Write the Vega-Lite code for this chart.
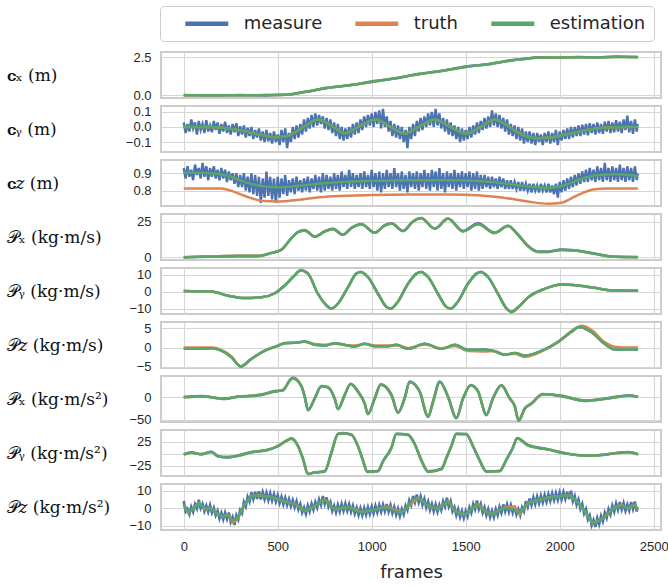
{
"$schema":"https://vega.github.io/schema/vega-lite/v6.json",
"background":"white",
"padding":5,
"datasets":{
"cx":[{"f":0,"m":0.01,"t":0,"e":0},{"f":150,"m":-0.02,"t":0,"e":0},{"f":300,"m":0.02,"t":0,"e":0},{"f":450,"m":-0.01,"t":0.01,"e":0.01},{"f":520,"m":0.04,"t":0.02,"e":0.02},{"f":560,"m":0.03,"t":0.05,"e":0.05},{"f":614,"m":0.17,"t":0.15,"e":0.15},{"f":680,"m":0.28,"t":0.3,"e":0.3},{"f":750,"m":0.47,"t":0.44,"e":0.44},{"f":875,"m":0.63,"t":0.65,"e":0.65},{"f":1000,"m":0.9,"t":0.87,"e":0.87},{"f":1125,"m":1.1,"t":1.12,"e":1.12},{"f":1250,"m":1.4,"t":1.37,"e":1.37},{"f":1375,"m":1.59,"t":1.61,"e":1.61},{"f":1500,"m":1.88,"t":1.85,"e":1.85},{"f":1625,"m":2.03,"t":2.05,"e":2.05},{"f":1750,"m":2.31,"t":2.28,"e":2.28},{"f":1820,"m":2.37,"t":2.4,"e":2.4},{"f":1880,"m":2.48,"t":2.45,"e":2.45},{"f":2000,"m":2.45,"t":2.47,"e":2.47},{"f":2100,"m":2.51,"t":2.48,"e":2.48},{"f":2200,"m":2.47,"t":2.49,"e":2.49},{"f":2300,"m":2.53,"t":2.5,"e":2.5},{"f":2417,"m":2.49,"t":2.5,"e":2.5}],
"cy":[{"f":0,"m":0.03},{"f":10,"m":-0.04},{"f":20,"m":0.02},{"f":30,"m":-0.03},{"f":40,"m":0.05},{"f":50,"m":-0.01},{"f":60,"m":0.03},{"f":70,"m":-0.05},{"f":80,"m":0.04},{"f":90,"m":-0.02},{"f":100,"m":0.02},{"f":110,"m":-0.04},{"f":120,"m":0.045},{"f":130,"m":-0.03},{"f":140,"m":0.01},{"f":150,"m":-0.035},{"f":160,"m":0.04},{"f":170,"m":-0.02},{"f":180,"m":0.03},{"f":190,"m":-0.045},{"f":200,"m":0.02},{"f":210,"m":-0.03},{"f":220,"m":0.035},{"f":230,"m":-0.04},{"f":240,"m":0.01},{"f":250,"m":-0.05},{"f":260,"m":0.02},{"f":270,"m":-0.035},{"f":280,"m":0.025},{"f":290,"m":-0.06},{"f":300,"m":0.005},{"f":310,"m":-0.05},{"f":320,"m":0.01},{"f":330,"m":-0.07},{"f":340,"m":-0.005},{"f":350,"m":-0.06},{"f":360,"m":0.0},{"f":370,"m":-0.08},{"f":380,"m":-0.02},{"f":390,"m":-0.07},{"f":400,"m":-0.01},{"f":410,"m":-0.09},{"f":420,"m":-0.03},{"f":430,"m":-0.1},{"f":440,"m":-0.02},{"f":450,"m":-0.095},{"f":460,"m":-0.04},{"f":470,"m":-0.11},{"f":480,"m":-0.03},{"f":490,"m":-0.1},{"f":500,"m":-0.05},{"f":510,"m":-0.12},{"f":520,"m":-0.02},{"f":530,"m":-0.1},{"f":540,"m":-0.01},{"f":550,"m":-0.14},{"f":560,"m":-0.04},{"f":570,"m":-0.1},{"f":580,"m":0.0},{"f":590,"m":-0.08},{"f":600,"m":0.01},{"f":610,"m":-0.07},{"f":620,"m":0.02},{"f":630,"m":-0.05},{"f":640,"m":0.05},{"f":650,"m":-0.03},{"f":660,"m":0.06},{"f":670,"m":-0.01},{"f":680,"m":0.08},{"f":690,"m":0.0},{"f":700,"m":0.09},{"f":710,"m":0.01},{"f":720,"m":0.08},{"f":730,"m":0.02},{"f":740,"m":0.07},{"f":750,"m":-0.01},{"f":760,"m":0.06},{"f":770,"m":-0.02},{"f":780,"m":0.05},{"f":790,"m":-0.04},{"f":800,"m":0.03},{"f":810,"m":-0.06},{"f":820,"m":0.02},{"f":830,"m":-0.08},{"f":840,"m":0.0},{"f":850,"m":-0.09},{"f":860,"m":-0.01},{"f":870,"m":-0.08},{"f":880,"m":0.0},{"f":890,"m":-0.07},{"f":900,"m":0.02},{"f":910,"m":-0.05},{"f":920,"m":0.03},{"f":930,"m":-0.04},{"f":940,"m":0.05},{"f":950,"m":-0.02},{"f":960,"m":0.07},{"f":970,"m":0.0},{"f":980,"m":0.08},{"f":990,"m":0.01},{"f":1000,"m":0.09},{"f":1010,"m":0.0},{"f":1020,"m":0.1},{"f":1030,"m":0.02},{"f":1040,"m":0.11},{"f":1050,"m":-0.01},{"f":1060,"m":0.12},{"f":1070,"m":0.0},{"f":1080,"m":0.07},{"f":1090,"m":-0.03},{"f":1100,"m":0.04},{"f":1110,"m":-0.06},{"f":1120,"m":0.02},{"f":1130,"m":-0.07},{"f":1140,"m":0.01},{"f":1150,"m":-0.08},{"f":1160,"m":0.0},{"f":1170,"m":-0.1},{"f":1180,"m":-0.02},{"f":1190,"m":-0.14},{"f":1200,"m":0.0},{"f":1210,"m":-0.08},{"f":1220,"m":0.02},{"f":1230,"m":-0.06},{"f":1240,"m":0.04},{"f":1250,"m":-0.03},{"f":1260,"m":0.06},{"f":1270,"m":-0.02},{"f":1280,"m":0.07},{"f":1290,"m":0.0},{"f":1300,"m":0.09},{"f":1310,"m":0.01},{"f":1320,"m":0.1},{"f":1330,"m":0.0},{"f":1340,"m":0.12},{"f":1350,"m":0.01},{"f":1360,"m":0.09},{"f":1370,"m":-0.01},{"f":1380,"m":0.06},{"f":1390,"m":-0.03},{"f":1400,"m":0.05},{"f":1410,"m":-0.05},{"f":1420,"m":0.03},{"f":1430,"m":-0.06},{"f":1440,"m":0.01},{"f":1450,"m":-0.08},{"f":1460,"m":0.0},{"f":1470,"m":-0.1},{"f":1480,"m":-0.01},{"f":1490,"m":-0.09},{"f":1500,"m":-0.02},{"f":1510,"m":-0.08},{"f":1520,"m":0.0},{"f":1530,"m":-0.07},{"f":1540,"m":0.01},{"f":1550,"m":-0.05},{"f":1560,"m":0.03},{"f":1570,"m":-0.04},{"f":1580,"m":0.04},{"f":1590,"m":-0.02},{"f":1600,"m":0.06},{"f":1610,"m":-0.01},{"f":1620,"m":0.07},{"f":1630,"m":0.0},{"f":1640,"m":0.11},{"f":1650,"m":0.01},{"f":1660,"m":0.09},{"f":1670,"m":0.0},{"f":1680,"m":0.08},{"f":1690,"m":-0.01},{"f":1700,"m":0.06},{"f":1710,"m":-0.03},{"f":1720,"m":0.05},{"f":1730,"m":-0.05},{"f":1740,"m":0.02},{"f":1750,"m":-0.06},{"f":1760,"m":0.01},{"f":1770,"m":-0.08},{"f":1780,"m":0.0},{"f":1790,"m":-0.09},{"f":1800,"m":-0.01},{"f":1810,"m":-0.11},{"f":1820,"m":-0.03},{"f":1830,"m":-0.1},{"f":1840,"m":-0.03},{"f":1850,"m":-0.11},{"f":1860,"m":-0.04},{"f":1870,"m":-0.12},{"f":1880,"m":-0.04},{"f":1890,"m":-0.1},{"f":1900,"m":-0.05},{"f":1910,"m":-0.12},{"f":1920,"m":-0.04},{"f":1930,"m":-0.1},{"f":1940,"m":-0.03},{"f":1950,"m":-0.11},{"f":1960,"m":-0.04},{"f":1970,"m":-0.1},{"f":1980,"m":-0.02},{"f":1990,"m":-0.12},{"f":2000,"m":-0.03},{"f":2010,"m":-0.09},{"f":2020,"m":-0.02},{"f":2030,"m":-0.08},{"f":2040,"m":-0.01},{"f":2050,"m":-0.08},{"f":2060,"m":0.0},{"f":2070,"m":-0.07},{"f":2080,"m":0.0},{"f":2090,"m":-0.06},{"f":2100,"m":0.01},{"f":2110,"m":-0.06},{"f":2120,"m":0.015},{"f":2130,"m":-0.05},{"f":2140,"m":0.02},{"f":2150,"m":-0.055},{"f":2160,"m":0.025},{"f":2170,"m":-0.04},{"f":2180,"m":0.02},{"f":2190,"m":-0.05},{"f":2200,"m":0.03},{"f":2210,"m":-0.04},{"f":2220,"m":0.02},{"f":2230,"m":-0.045},{"f":2240,"m":0.035},{"f":2250,"m":-0.03},{"f":2260,"m":0.04},{"f":2270,"m":-0.04},{"f":2280,"m":0.03},{"f":2290,"m":-0.035},{"f":2300,"m":0.045},{"f":2310,"m":-0.03},{"f":2320,"m":0.035},{"f":2330,"m":-0.04},{"f":2340,"m":0.05},{"f":2350,"m":-0.02},{"f":2360,"m":0.075},{"f":2370,"m":-0.035},{"f":2380,"m":0.04},{"f":2390,"m":-0.045},{"f":2400,"m":0.05},{"f":2410,"m":-0.03},{"f":2415,"m":0.02},
{"f":0,"t":0,"e":0},{"f":150,"t":0,"e":0},{"f":250,"t":-0.012,"e":-0.012},{"f":330,"t":-0.03,"e":-0.03},{"f":420,"t":-0.055,"e":-0.055},{"f":484,"t":-0.068,"e":-0.068},{"f":540,"t":-0.063,"e":-0.063},{"f":600,"t":-0.03,"e":-0.03},{"f":650,"t":0.01,"e":0.01},{"f":714,"t":0.05,"e":0.05},{"f":790,"t":0.005,"e":0.005},{"f":856,"t":-0.042,"e":-0.042},{"f":935,"t":0.005,"e":0.005},{"f":1020,"t":0.05,"e":0.05},{"f":1100,"t":0.0,"e":0.0},{"f":1178,"t":-0.044,"e":-0.044},{"f":1255,"t":0.005,"e":0.005},{"f":1335,"t":0.05,"e":0.05},{"f":1418,"t":0.0,"e":0.0},{"f":1500,"t":-0.044,"e":-0.044},{"f":1578,"t":0.0,"e":0.0},{"f":1655,"t":0.05,"e":0.05},{"f":1720,"t":0.01,"e":0.01},{"f":1790,"t":-0.045,"e":-0.045},{"f":1885,"t":-0.075,"e":-0.075},{"f":1950,"t":-0.07,"e":-0.07},{"f":2050,"t":-0.045,"e":-0.045},{"f":2150,"t":-0.018,"e":-0.018},{"f":2250,"t":-0.003,"e":-0.003},{"f":2350,"t":0,"e":0},{"f":2417,"t":0,"e":0}],
"cz":[{"f":0,"m":0.93},{"f":10,"m":0.87},{"f":20,"m":0.94},{"f":30,"m":0.88},{"f":40,"m":0.92},{"f":50,"m":0.86},{"f":60,"m":0.95},{"f":70,"m":0.89},{"f":80,"m":0.93},{"f":90,"m":0.87},{"f":100,"m":0.96},{"f":110,"m":0.88},{"f":120,"m":0.94},{"f":130,"m":0.86},{"f":140,"m":0.93},{"f":150,"m":0.88},{"f":160,"m":0.94},{"f":170,"m":0.87},{"f":180,"m":0.92},{"f":190,"m":0.86},{"f":200,"m":0.93},{"f":210,"m":0.87},{"f":220,"m":0.92},{"f":230,"m":0.85},{"f":240,"m":0.91},{"f":250,"m":0.86},{"f":260,"m":0.9},{"f":270,"m":0.84},{"f":280,"m":0.9},{"f":290,"m":0.82},{"f":300,"m":0.89},{"f":310,"m":0.82},{"f":320,"m":0.9},{"f":330,"m":0.8},{"f":340,"m":0.88},{"f":350,"m":0.79},{"f":360,"m":0.9},{"f":370,"m":0.78},{"f":380,"m":0.89},{"f":390,"m":0.77},{"f":400,"m":0.88},{"f":410,"m":0.73},{"f":420,"m":0.87},{"f":430,"m":0.76},{"f":440,"m":0.91},{"f":450,"m":0.77},{"f":460,"m":0.88},{"f":470,"m":0.75},{"f":480,"m":0.87},{"f":490,"m":0.73},{"f":500,"m":0.88},{"f":510,"m":0.76},{"f":520,"m":0.87},{"f":530,"m":0.78},{"f":540,"m":0.89},{"f":550,"m":0.77},{"f":560,"m":0.86},{"f":570,"m":0.79},{"f":580,"m":0.87},{"f":590,"m":0.78},{"f":600,"m":0.88},{"f":610,"m":0.8},{"f":620,"m":0.86},{"f":630,"m":0.79},{"f":640,"m":0.87},{"f":650,"m":0.8},{"f":660,"m":0.88},{"f":670,"m":0.79},{"f":680,"m":0.87},{"f":690,"m":0.81},{"f":700,"m":0.89},{"f":710,"m":0.8},{"f":720,"m":0.88},{"f":730,"m":0.79},{"f":740,"m":0.9},{"f":750,"m":0.8},{"f":760,"m":0.89},{"f":770,"m":0.81},{"f":780,"m":0.88},{"f":790,"m":0.8},{"f":800,"m":0.9},{"f":810,"m":0.81},{"f":820,"m":0.89},{"f":830,"m":0.8},{"f":840,"m":0.91},{"f":850,"m":0.82},{"f":860,"m":0.89},{"f":870,"m":0.81},{"f":880,"m":0.92},{"f":890,"m":0.82},{"f":900,"m":0.9},{"f":910,"m":0.81},{"f":920,"m":0.89},{"f":930,"m":0.82},{"f":940,"m":0.9},{"f":950,"m":0.81},{"f":960,"m":0.91},{"f":970,"m":0.82},{"f":980,"m":0.89},{"f":990,"m":0.81},{"f":1000,"m":0.92},{"f":1010,"m":0.82},{"f":1020,"m":0.9},{"f":1030,"m":0.8},{"f":1040,"m":0.91},{"f":1050,"m":0.79},{"f":1060,"m":0.9},{"f":1070,"m":0.81},{"f":1080,"m":0.92},{"f":1090,"m":0.82},{"f":1100,"m":0.9},{"f":1110,"m":0.81},{"f":1120,"m":0.93},{"f":1130,"m":0.82},{"f":1140,"m":0.9},{"f":1150,"m":0.8},{"f":1160,"m":0.91},{"f":1170,"m":0.81},{"f":1180,"m":0.89},{"f":1190,"m":0.79},{"f":1200,"m":0.91},{"f":1210,"m":0.82},{"f":1220,"m":0.9},{"f":1230,"m":0.81},{"f":1240,"m":0.91},{"f":1250,"m":0.8},{"f":1260,"m":0.9},{"f":1270,"m":0.82},{"f":1280,"m":0.92},{"f":1290,"m":0.81},{"f":1300,"m":0.9},{"f":1310,"m":0.8},{"f":1320,"m":0.92},{"f":1330,"m":0.82},{"f":1340,"m":0.91},{"f":1350,"m":0.8},{"f":1360,"m":0.93},{"f":1370,"m":0.81},{"f":1380,"m":0.9},{"f":1390,"m":0.79},{"f":1400,"m":0.91},{"f":1410,"m":0.82},{"f":1420,"m":0.9},{"f":1430,"m":0.81},{"f":1440,"m":0.92},{"f":1450,"m":0.8},{"f":1460,"m":0.9},{"f":1470,"m":0.82},{"f":1480,"m":0.91},{"f":1490,"m":0.81},{"f":1500,"m":0.9},{"f":1510,"m":0.82},{"f":1520,"m":0.91},{"f":1530,"m":0.8},{"f":1540,"m":0.9},{"f":1550,"m":0.81},{"f":1560,"m":0.91},{"f":1570,"m":0.8},{"f":1580,"m":0.89},{"f":1590,"m":0.81},{"f":1600,"m":0.89},{"f":1610,"m":0.82},{"f":1620,"m":0.88},{"f":1630,"m":0.81},{"f":1640,"m":0.88},{"f":1650,"m":0.82},{"f":1660,"m":0.87},{"f":1670,"m":0.81},{"f":1680,"m":0.88},{"f":1690,"m":0.82},{"f":1700,"m":0.87},{"f":1710,"m":0.81},{"f":1720,"m":0.86},{"f":1730,"m":0.81},{"f":1740,"m":0.86},{"f":1750,"m":0.81},{"f":1760,"m":0.85},{"f":1770,"m":0.81},{"f":1780,"m":0.85},{"f":1790,"m":0.8},{"f":1800,"m":0.85},{"f":1810,"m":0.8},{"f":1820,"m":0.84},{"f":1830,"m":0.8},{"f":1840,"m":0.84},{"f":1850,"m":0.79},{"f":1860,"m":0.84},{"f":1870,"m":0.8},{"f":1880,"m":0.83},{"f":1890,"m":0.79},{"f":1900,"m":0.84},{"f":1910,"m":0.8},{"f":1920,"m":0.83},{"f":1930,"m":0.79},{"f":1940,"m":0.84},{"f":1950,"m":0.79},{"f":1960,"m":0.83},{"f":1970,"m":0.78},{"f":1980,"m":0.84},{"f":1990,"m":0.76},{"f":2000,"m":0.85},{"f":2010,"m":0.79},{"f":2020,"m":0.86},{"f":2030,"m":0.8},{"f":2040,"m":0.87},{"f":2050,"m":0.81},{"f":2060,"m":0.88},{"f":2070,"m":0.82},{"f":2080,"m":0.89},{"f":2090,"m":0.83},{"f":2100,"m":0.9},{"f":2110,"m":0.84},{"f":2120,"m":0.91},{"f":2130,"m":0.85},{"f":2140,"m":0.92},{"f":2150,"m":0.85},{"f":2160,"m":0.93},{"f":2170,"m":0.86},{"f":2180,"m":0.92},{"f":2190,"m":0.85},{"f":2200,"m":0.94},{"f":2210,"m":0.86},{"f":2220,"m":0.93},{"f":2230,"m":0.85},{"f":2240,"m":0.96},{"f":2250,"m":0.86},{"f":2260,"m":0.93},{"f":2270,"m":0.85},{"f":2280,"m":0.94},{"f":2290,"m":0.86},{"f":2300,"m":0.93},{"f":2310,"m":0.85},{"f":2320,"m":0.95},{"f":2330,"m":0.86},{"f":2340,"m":0.93},{"f":2350,"m":0.85},{"f":2360,"m":0.94},{"f":2370,"m":0.86},{"f":2380,"m":0.93},{"f":2390,"m":0.85},{"f":2400,"m":0.94},{"f":2410,"m":0.86},{"f":2415,"m":0.9},
{"f":0,"t":0.813,"e":0.904},{"f":100,"t":0.813,"e":0.903},{"f":150,"t":0.813,"e":0.9},{"f":200,"t":0.812,"e":0.893},{"f":250,"t":0.8,"e":0.88},{"f":300,"t":0.78,"e":0.86},{"f":350,"t":0.76,"e":0.842},{"f":430,"t":0.74,"e":0.824},{"f":500,"t":0.738,"e":0.82},{"f":590,"t":0.745,"e":0.825},{"f":700,"t":0.76,"e":0.838},{"f":800,"t":0.768,"e":0.847},{"f":1000,"t":0.775,"e":0.856},{"f":1200,"t":0.778,"e":0.86},{"f":1400,"t":0.778,"e":0.86},{"f":1500,"t":0.776,"e":0.858},{"f":1654,"t":0.765,"e":0.848},{"f":1750,"t":0.752,"e":0.835},{"f":1830,"t":0.738,"e":0.824},{"f":1938,"t":0.725,"e":0.815},{"f":2009,"t":0.73,"e":0.825},{"f":2060,"t":0.755,"e":0.845},{"f":2097,"t":0.775,"e":0.862},{"f":2150,"t":0.798,"e":0.878},{"f":2186,"t":0.808,"e":0.887},{"f":2250,"t":0.813,"e":0.893},{"f":2300,"t":0.813,"e":0.894},{"f":2417,"t":0.813,"e":0.883}],
"px":[{"f":0,"m":0,"t":0,"e":0},{"f":147,"m":0.3,"t":0.5,"e":0.5},{"f":289,"m":0.6,"t":0.9,"e":0.9},{"f":395,"m":0.7,"t":0.9,"e":0.9},{"f":466,"m":2.8,"t":3,"e":3},{"f":520,"m":5.2,"t":5.3,"e":5.3},{"f":573,"m":13.4,"t":13.4,"e":13.4},{"f":608,"m":17.8,"t":17.6,"e":17.6},{"f":644,"m":19,"t":18.8,"e":18.8},{"f":697,"m":14.5,"t":14.4,"e":14.4},{"f":750,"m":18.2,"t":18,"e":18},{"f":794,"m":19.9,"t":19.7,"e":19.7},{"f":847,"m":15.8,"t":15.7,"e":15.7},{"f":892,"m":20.6,"t":20.4,"e":20.4},{"f":945,"m":23.3,"t":23.1,"e":23.1},{"f":1016,"m":17.2,"t":17.1,"e":17.1},{"f":1069,"m":22.4,"t":22.2,"e":22.2},{"f":1105,"m":23.8,"t":23.6,"e":23.6},{"f":1167,"m":18.4,"t":18.3,"e":18.3},{"f":1220,"m":25.2,"t":25,"e":25},{"f":1264,"m":27.5,"t":27.3,"e":27.3},{"f":1335,"m":20.1,"t":19.9,"e":19.9},{"f":1406,"m":27.1,"t":26.9,"e":26.9},{"f":1486,"m":18.4,"t":18.1,"e":18.1},{"f":1566,"m":23.8,"t":23.1,"e":23.1},{"f":1654,"m":17.3,"t":16.9,"e":16.9},{"f":1725,"m":22,"t":21.8,"e":21.8},{"f":1778,"m":15.9,"t":15.7,"e":15.7},{"f":1832,"m":7.9,"t":7.6,"e":7.6},{"f":1885,"m":3.9,"t":3.7,"e":3.7},{"f":1938,"m":3.9,"t":3.7,"e":3.7},{"f":2009,"m":5.4,"t":5.1,"e":5.1},{"f":2080,"m":4.9,"t":4.6,"e":4.6},{"f":2186,"m":2.5,"t":2.3,"e":2.3},{"f":2292,"m":0.3,"t":0.2,"e":0.2},{"f":2417,"m":0.1,"t":0,"e":0}],
"py":[{"f":0,"m":0.4,"t":0.4,"e":0.4},{"f":147,"m":0,"t":0,"e":0},{"f":236,"m":-2.4,"t":-2.4,"e":-2.4},{"f":324,"m":-3.8,"t":-3.8,"e":-3.8},{"f":413,"m":-3.4,"t":-3.4,"e":-3.4},{"f":484,"m":-1,"t":-1,"e":-1},{"f":537,"m":3.6,"t":3.6,"e":3.6},{"f":590,"m":9.6,"t":9.6,"e":9.6},{"f":622,"m":12.6,"t":12.6,"e":12.6},{"f":661,"m":10.6,"t":10.6,"e":10.6},{"f":714,"m":-1.4,"t":-1.4,"e":-1.4},{"f":768,"m":-9,"t":-9,"e":-9},{"f":785,"m":-10,"t":-10,"e":-10},{"f":821,"m":-7,"t":-7,"e":-7},{"f":874,"m":2.6,"t":2.6,"e":2.6},{"f":918,"m":10.6,"t":10.6,"e":10.6},{"f":941,"m":11.6,"t":11.6,"e":11.6},{"f":980,"m":8.6,"t":8.6,"e":8.6},{"f":1034,"m":-1.4,"t":-1.4,"e":-1.4},{"f":1078,"m":-9,"t":-9,"e":-9},{"f":1101,"m":-10,"t":-10,"e":-10},{"f":1140,"m":-5.8,"t":-5.8,"e":-5.8},{"f":1193,"m":4.6,"t":4.6,"e":4.6},{"f":1238,"m":10.6,"t":10.6,"e":10.6},{"f":1261,"m":11.6,"t":11.6,"e":11.6},{"f":1300,"m":8.6,"t":8.6,"e":8.6},{"f":1353,"m":-1.4,"t":-1.4,"e":-1.4},{"f":1397,"m":-9,"t":-9,"e":-9},{"f":1420,"m":-10,"t":-10,"e":-10},{"f":1459,"m":-5.8,"t":-5.8,"e":-5.8},{"f":1512,"m":4.6,"t":4.6,"e":4.6},{"f":1557,"m":10.6,"t":10.6,"e":10.6},{"f":1580,"m":11.6,"t":11.6,"e":11.6},{"f":1619,"m":8.6,"t":8.6,"e":8.6},{"f":1672,"m":-1.4,"t":-1.4,"e":-1.4},{"f":1716,"m":-9.8,"t":-9.8,"e":-9.8},{"f":1743,"m":-12,"t":-12,"e":-12},{"f":1778,"m":-9.4,"t":-9.4,"e":-9.4},{"f":1832,"m":-3.4,"t":-3.4,"e":-3.4},{"f":1920,"m":1.6,"t":1.6,"e":1.6},{"f":2009,"m":4.2,"t":4.2,"e":4.2},{"f":2097,"m":3.6,"t":3.6,"e":3.6},{"f":2186,"m":2.2,"t":2.2,"e":2.2},{"f":2292,"m":0.6,"t":0.6,"e":0.6},{"f":2417,"m":0.5,"t":0.5,"e":0.5}],
"pz":[{"f":0,"m":-0.35,"t":0,"e":-0.35},{"f":58,"m":-0.35,"t":0,"e":-0.35},{"f":147,"m":-0.2,"t":0,"e":-0.2},{"f":200,"m":-0.8,"t":-0.6,"e":-0.8},{"f":254,"m":-2.5,"t":-2.3,"e":-2.5},{"f":303,"m":-4.9,"t":-4.9,"e":-4.9},{"f":360,"m":-2.9,"t":-3.0,"e":-2.9},{"f":431,"m":-0.8,"t":-0.9,"e":-0.8},{"f":502,"m":0.5,"t":0.4,"e":0.5},{"f":537,"m":1.1,"t":1.2,"e":1.1},{"f":590,"m":1.2,"t":1.3,"e":1.2},{"f":644,"m":1.55,"t":1.5,"e":1.55},{"f":697,"m":0.7,"t":0.9,"e":0.7},{"f":750,"m":0.5,"t":0.7,"e":0.5},{"f":803,"m":1.1,"t":1.0,"e":1.1},{"f":874,"m":0.5,"t":0.6,"e":0.5},{"f":910,"m":0.26,"t":0.5,"e":0.26},{"f":963,"m":0.95,"t":0.9,"e":0.95},{"f":1016,"m":0.35,"t":0.5,"e":0.35},{"f":1087,"m":0.35,"t":0.5,"e":0.35},{"f":1131,"m":0.7,"t":0.6,"e":0.7},{"f":1193,"m":-0.35,"t":-0.1,"e":-0.35},{"f":1282,"m":0.95,"t":0.8,"e":0.95},{"f":1371,"m":-0.35,"t":-0.2,"e":-0.35},{"f":1442,"m":0.7,"t":0.4,"e":0.7},{"f":1512,"m":-0.6,"t":-0.9,"e":-0.6},{"f":1601,"m":-0.5,"t":-1.0,"e":-0.5},{"f":1654,"m":-1.0,"t":-0.9,"e":-1.0},{"f":1707,"m":-1.9,"t":-1.9,"e":-1.9},{"f":1760,"m":-1.4,"t":-1.6,"e":-1.4},{"f":1814,"m":-2.1,"t":-2.4,"e":-2.1},{"f":1920,"m":-0.5,"t":-0.6,"e":-0.5},{"f":1990,"m":1.4,"t":1.4,"e":1.4},{"f":2061,"m":4.0,"t":4.2,"e":4.0},{"f":2105,"m":5.3,"t":5.5,"e":5.3},{"f":2120,"m":5.2,"t":5.6,"e":5.2},{"f":2168,"m":4.0,"t":4.6,"e":4.0},{"f":2239,"m":0.95,"t":1.4,"e":0.95},{"f":2292,"m":-0.5,"t":0.2,"e":-0.5},{"f":2346,"m":-0.5,"t":0.0,"e":-0.5},{"f":2417,"m":-0.5,"t":0.0,"e":-0.5}],
"pxd":[{"f":0,"m":0.5,"t":0,"e":0},{"f":94,"m":2.5,"t":1.5,"e":1.5},{"f":218,"m":-4,"t":-3,"e":-3},{"f":289,"m":1.5,"t":0.8,"e":0.8},{"f":395,"m":3.5,"t":4.6,"e":4.6},{"f":484,"m":13.5,"t":12.3,"e":12.3},{"f":528,"m":15,"t":16,"e":16},{"f":569,"m":40.5,"t":39,"e":39},{"f":582,"m":43,"t":41.5,"e":41.5},{"f":626,"m":25,"t":24,"e":24},{"f":644,"m":0,"t":0.8,"e":0.8},{"f":661,"m":-29.5,"t":-28.5,"e":-28.5},{"f":697,"m":-2,"t":-3,"e":-3},{"f":732,"m":25,"t":24,"e":24},{"f":768,"m":22,"t":21.5,"e":21.5},{"f":803,"m":-4,"t":-3,"e":-3},{"f":821,"m":-27,"t":-26,"e":-26},{"f":856,"m":5,"t":4.6,"e":4.6},{"f":888,"m":30,"t":29,"e":29},{"f":927,"m":13,"t":12,"e":12},{"f":963,"m":-15,"t":-14.6,"e":-14.6},{"f":980,"m":-38,"t":-37,"e":-37},{"f":1016,"m":-2.5,"t":-3,"e":-3},{"f":1048,"m":28.5,"t":27.7,"e":27.7},{"f":1105,"m":5.5,"t":4.6,"e":4.6},{"f":1140,"m":-35,"t":-34,"e":-34},{"f":1175,"m":-2,"t":-3,"e":-3},{"f":1202,"m":35,"t":33.8,"e":33.8},{"f":1255,"m":13,"t":12.3,"e":12.3},{"f":1300,"m":-44,"t":-43,"e":-43},{"f":1326,"m":-10,"t":-10.8,"e":-10.8},{"f":1362,"m":35,"t":33.8,"e":33.8},{"f":1406,"m":1.5,"t":0.8,"e":0.8},{"f":1450,"m":-47,"t":-46,"e":-46},{"f":1486,"m":-2,"t":-3,"e":-3},{"f":1527,"m":27,"t":26,"e":26},{"f":1566,"m":13,"t":12.3,"e":12.3},{"f":1610,"m":-40,"t":-39,"e":-39},{"f":1645,"m":-2,"t":-3,"e":-3},{"f":1690,"m":27,"t":26,"e":26},{"f":1734,"m":-2,"t":-3,"e":-3},{"f":1760,"m":-19,"t":-18.5,"e":-18.5},{"f":1782,"m":-52.5,"t":-51.5,"e":-51.5},{"f":1814,"m":-25,"t":-26,"e":-26},{"f":1849,"m":-14,"t":-14.6,"e":-14.6},{"f":1911,"m":6.8,"t":6.2,"e":6.2},{"f":2009,"m":2,"t":3,"e":3},{"f":2133,"m":-8.5,"t":-7.7,"e":-7.7},{"f":2257,"m":-2,"t":-3,"e":-3},{"f":2372,"m":4.5,"t":3,"e":3},{"f":2417,"m":0.5,"t":0,"e":0}],
"pyd":[{"f":0,"m":-1,"t":-2,"e":-2},{"f":41,"m":3,"t":2,"e":2},{"f":94,"m":-1.5,"t":-0.7,"e":-0.7},{"f":147,"m":4,"t":3.5,"e":3.5},{"f":183,"m":-5,"t":-5.7,"e":-5.7},{"f":236,"m":-8,"t":-7,"e":-7},{"f":289,"m":-3.5,"t":-4.3,"e":-4.3},{"f":360,"m":3.5,"t":2.9,"e":2.9},{"f":431,"m":6,"t":7,"e":7},{"f":502,"m":16.5,"t":15.7,"e":15.7},{"f":546,"m":27,"t":26.4,"e":26.4},{"f":573,"m":32,"t":31,"e":31},{"f":608,"m":16,"t":15.7,"e":15.7},{"f":635,"m":-12,"t":-11,"e":-11},{"f":661,"m":-42,"t":-41.4,"e":-41.4},{"f":697,"m":-38,"t":-39,"e":-39},{"f":750,"m":-37,"t":-36,"e":-36},{"f":785,"m":2,"t":1.4,"e":1.4},{"f":821,"m":41.5,"t":40.7,"e":40.7},{"f":847,"m":43,"t":42,"e":42},{"f":892,"m":40,"t":39,"e":39},{"f":927,"m":15,"t":15.7,"e":15.7},{"f":953,"m":-14,"t":-13,"e":-13},{"f":976,"m":-37.5,"t":-36,"e":-36},{"f":1034,"m":-35,"t":-36,"e":-36},{"f":1060,"m":-15,"t":-16,"e":-16},{"f":1105,"m":13,"t":12,"e":12},{"f":1131,"m":41.5,"t":40.7,"e":40.7},{"f":1193,"m":39.5,"t":38.6,"e":38.6},{"f":1229,"m":20,"t":19.3,"e":19.3},{"f":1264,"m":-14,"t":-13,"e":-13},{"f":1300,"m":-37.5,"t":-36.4,"e":-36.4},{"f":1371,"m":-31,"t":-32,"e":-32},{"f":1397,"m":-8.5,"t":-9.3,"e":-9.3},{"f":1424,"m":16.5,"t":15.7,"e":15.7},{"f":1450,"m":41.5,"t":40.7,"e":40.7},{"f":1503,"m":41,"t":40,"e":40},{"f":1539,"m":15,"t":15.7,"e":15.7},{"f":1574,"m":-14,"t":-13,"e":-13},{"f":1610,"m":-37,"t":-36,"e":-36},{"f":1681,"m":-35,"t":-36,"e":-36},{"f":1716,"m":-12,"t":-13,"e":-13},{"f":1751,"m":13,"t":12,"e":12},{"f":1774,"m":32.5,"t":31.4,"e":31.4},{"f":1832,"m":18,"t":17,"e":17},{"f":1885,"m":13,"t":12,"e":12},{"f":1938,"m":9.5,"t":8.6,"e":8.6},{"f":2009,"m":2,"t":2.9,"e":2.9},{"f":2133,"m":-3.5,"t":-4.3,"e":-4.3},{"f":2203,"m":-3.5,"t":-2.9,"e":-2.9},{"f":2310,"m":2,"t":1.4,"e":1.4},{"f":2363,"m":3.5,"t":2.9,"e":2.9},{"f":2417,"m":-1,"t":-1.4,"e":-1.4}],
"pzd":[{"f":0,"m":4.2,"t":2.3,"e":2.3},{"f":10,"m":-1.8},{"f":20,"m":-0.3,"e":-2},{"f":30,"m":-3.4},{"f":40,"m":0.8,"e":-1},{"f":50,"m":-2},{"f":60,"m":2.4,"e":0.6},{"f":70,"m":-0.2},{"f":80,"m":4.8,"e":3},{"f":90,"m":0},{"f":100,"m":2.5,"e":0.5},{"f":110,"m":-1.6},{"f":120,"m":1.5,"e":-0.3},{"f":130,"m":-2},{"f":140,"m":1.8,"e":0},{"f":150,"m":-2.5},{"f":160,"m":0.3,"e":-1.5},{"f":170,"m":-4},{"f":180,"m":-1.4,"e":-3.2},{"f":190,"m":-5.8},{"f":200,"m":-2.6,"e":-4.5},{"f":210,"m":-6.3},{"f":220,"m":-2.5,"e":-4.3},{"f":230,"m":-6},{"f":240,"m":-2.4,"e":-4.2},{"f":250,"m":-7.8},{"f":260,"m":-5,"e":-7},{"f":270,"m":-9.5},{"f":280,"m":-4,"e":-6},{"f":290,"m":-6.4},{"f":300,"m":-1,"e":-3},{"f":310,"m":-2.8},{"f":320,"m":3.5,"e":1.5},{"f":330,"m":1},{"f":340,"m":6.5,"e":4.5},{"f":350,"m":3.8},{"f":360,"m":9,"e":7},{"f":370,"m":5.2},{"f":380,"m":9.4,"e":7.3},{"f":390,"m":5.3},{"f":400,"m":9.6,"e":7.4},{"f":410,"m":5.1},{"f":420,"m":9.2,"e":7.1},{"f":430,"m":5.1},{"f":440,"m":8.8,"e":6.8},{"f":450,"m":4.6},{"f":460,"m":8.5,"e":6.5},{"f":470,"m":4.4},{"f":480,"m":8,"e":6},{"f":490,"m":3.8},{"f":500,"m":7.4,"e":5.3},{"f":510,"m":3},{"f":520,"m":6.5,"e":4.5},{"f":530,"m":2.3},{"f":540,"m":5.9,"e":3.9},{"f":550,"m":1.8},{"f":560,"m":5.2,"e":3.4},{"f":570,"m":1.2},{"f":580,"m":4.6,"e":2.8},{"f":590,"m":0.6},{"f":600,"m":4,"e":2},{"f":610,"m":-0.6},{"f":620,"m":2.4,"e":0.5},{"f":630,"m":-2.4},{"f":640,"m":0.4,"e":-1.4},{"f":650,"m":-3.2},{"f":660,"m":1.5,"e":-0.5},{"f":670,"m":-1.8},{"f":680,"m":2.6,"e":0.6},{"f":690,"m":-0.8},{"f":700,"m":3.5,"e":1.5},{"f":710,"m":0.4},{"f":720,"m":5,"e":3},{"f":730,"m":1.9},{"f":740,"m":7,"e":4.8},{"f":750,"m":2.5},{"f":760,"m":6.2,"e":4.2},{"f":770,"m":1},{"f":780,"m":3.5,"e":1.5},{"f":790,"m":-1.5},{"f":800,"m":1.5,"e":-0.5},{"f":810,"m":-2.3},{"f":820,"m":2,"e":0},{"f":830,"m":-1.8},{"f":840,"m":2.4,"e":0.4},{"f":850,"m":-1.4},{"f":860,"m":2.7,"e":0.7},{"f":870,"m":-1.4},{"f":880,"m":2.3,"e":0.5},{"f":890,"m":-2},{"f":900,"m":1.5,"e":-0.5},{"f":910,"m":-3},{"f":920,"m":0.3,"e":-1.5},{"f":930,"m":-3.8},{"f":940,"m":0,"e":-2},{"f":950,"m":-3.9},{"f":960,"m":0.2,"e":-1.8},{"f":970,"m":-3.6},{"f":980,"m":0.6,"e":-1.4},{"f":990,"m":-3.2},{"f":1000,"m":0.9,"e":-1.1},{"f":1010,"m":-2.8},{"f":1020,"m":1.4,"e":-0.6},{"f":1030,"m":-2.4},{"f":1040,"m":1.8,"e":-0.2},{"f":1050,"m":-2},{"f":1060,"m":2.1,"e":0.1},{"f":1070,"m":-1.7},{"f":1080,"m":2.4,"e":0.4},{"f":1090,"m":-1.9},{"f":1100,"m":1.8,"e":-0.2},{"f":1110,"m":-2.7},{"f":1120,"m":0.8,"e":-1.2},{"f":1130,"m":-3.7},{"f":1140,"m":-0.2,"e":-2.2},{"f":1150,"m":-4.4},{"f":1160,"m":-0.4,"e":-2.4},{"f":1170,"m":-3.5},{"f":1180,"m":1.5,"e":-0.5},{"f":1190,"m":-1},{"f":1200,"m":4.5,"e":2.5},{"f":1210,"m":1.8},{"f":1220,"m":7,"e":5},{"f":1230,"m":3.4},{"f":1240,"m":7.8,"e":5.8},{"f":1250,"m":3.3},{"f":1260,"m":6.8,"e":4.8},{"f":1270,"m":2},{"f":1280,"m":5.3,"e":3.3},{"f":1290,"m":0.5},{"f":1300,"m":3.8,"e":1.8},{"f":1310,"m":-0.9},{"f":1320,"m":2.5,"e":0.5},{"f":1330,"m":-1.7},{"f":1340,"m":2.2,"e":0.2},{"f":1350,"m":-1.9},{"f":1360,"m":2,"e":0},{"f":1370,"m":-1},{"f":1380,"m":4,"e":2},{"f":1390,"m":1},{"f":1400,"m":6,"e":4},{"f":1410,"m":1},{"f":1420,"m":4,"e":2},{"f":1430,"m":-1.7},{"f":1440,"m":0.7,"e":-1.3},{"f":1450,"m":-3.9},{"f":1460,"m":-0.5,"e":-2.5},{"f":1470,"m":-5},{"f":1480,"m":-1.5,"e":-3.5},{"f":1490,"m":-5.5},{"f":1500,"m":-1.5,"e":-3.5},{"f":1510,"m":-4.5},{"f":1520,"m":0.5,"e":-1.5},{"f":1530,"m":-2.5},{"f":1540,"m":2.5,"e":0.5},{"f":1550,"m":-0.5},{"f":1560,"m":4.4,"e":2.4},{"f":1570,"m":-0.5},{"f":1580,"m":2.5,"e":0.5},{"f":1590,"m":-2.5},{"f":1600,"m":0.5,"e":-1.5},{"f":1610,"m":-4},{"f":1620,"m":-0.5,"e":-2.5},{"f":1630,"m":-5},{"f":1640,"m":-1.4,"e":-3.4},{"f":1650,"m":-5},{"f":1660,"m":-0.5,"e":-2.5},{"f":1670,"m":-3.8},{"f":1680,"m":0.8,"e":-1.2},{"f":1690,"m":-2.5},{"f":1700,"m":2.2,"e":0.2},{"f":1710,"m":-1.8},{"f":1720,"m":2.2,"e":0.2},{"f":1730,"m":-2},{"f":1740,"m":1.8,"e":-0.2},{"f":1750,"m":-2.4},{"f":1760,"m":1.4,"e":-0.6},{"f":1770,"m":-3.5},{"f":1780,"m":-0.5,"e":-2.5},{"f":1790,"m":-4},{"f":1800,"m":0.5,"e":-1.5},{"f":1810,"m":-1.8},{"f":1820,"m":4,"e":2},{"f":1830,"m":0.8},{"f":1840,"m":5.6,"e":3.6},{"f":1850,"m":1.9},{"f":1860,"m":6.2,"e":4.2},{"f":1870,"m":2.4},{"f":1880,"m":6.7,"e":4.7},{"f":1890,"m":2.9},{"f":1900,"m":7.1,"e":5.1},{"f":1910,"m":3.3},{"f":1920,"m":7.5,"e":5.5},{"f":1930,"m":3.7},{"f":1940,"m":8,"e":6},{"f":1950,"m":4.2},{"f":1960,"m":8.5,"e":6.5},{"f":1970,"m":4.6},{"f":1980,"m":8.7,"e":6.7},{"f":1990,"m":4.8},{"f":2000,"m":8.9,"e":6.9},{"f":2010,"m":5},{"f":2020,"m":9.2,"e":7.2},{"f":2030,"m":5.3},{"f":2040,"m":9.4,"e":7.4},{"f":2050,"m":5.2},{"f":2060,"m":10,"e":7},{"f":2070,"m":4},{"f":2080,"m":7,"e":5},{"f":2090,"m":2},{"f":2100,"m":5,"e":3},{"f":2110,"m":-0.3},{"f":2120,"m":2.5,"e":0.5},{"f":2130,"m":-3},{"f":2140,"m":-0.5,"e":-2.5},{"f":2150,"m":-6.3},{"f":2160,"m":-4,"e":-6},{"f":2170,"m":-9.5},{"f":2180,"m":-6.6,"e":-8.6},{"f":2190,"m":-10.6},{"f":2200,"m":-5.6,"e":-7.6},{"f":2210,"m":-9},{"f":2220,"m":-4.3,"e":-6.3},{"f":2230,"m":-7.4},{"f":2240,"m":-2.5,"e":-4.5},{"f":2250,"m":-5.5},{"f":2260,"m":-0.5,"e":-2.5},{"f":2270,"m":-3.5},{"f":2280,"m":1.5,"e":-0.5},{"f":2290,"m":-1.9},{"f":2300,"m":2.8,"e":0.8},{"f":2310,"m":-0.8},{"f":2320,"m":3.6,"e":1.6},{"f":2330,"m":-0.7},{"f":2340,"m":3,"e":1},{"f":2350,"m":-1.4},{"f":2360,"m":2.2,"e":0.2},{"f":2370,"m":-1.2},{"f":2380,"m":3.5,"e":1.5},{"f":2390,"m":-0.4},{"f":2400,"m":3.8,"e":1.8},{"f":2410,"m":-1.8},{"f":2415,"m":0.5,"e":-0.5},
{"f":23,"t":-2.5},{"f":58,"t":0.4},{"f":76,"t":3.2},{"f":112,"t":-0.6},{"f":147,"t":0},{"f":174,"t":-2.8},{"f":209,"t":-4.7},{"f":236,"t":-3.8},{"f":262,"t":-8},{"f":289,"t":-5.3},{"f":324,"t":2.3},{"f":360,"t":7},{"f":395,"t":7.5},{"f":466,"t":6.4},{"f":520,"t":4.5},{"f":590,"t":2.6},{"f":644,"t":-1.5},{"f":697,"t":1.3},{"f":750,"t":5.1},{"f":803,"t":-0.6},{"f":874,"t":0.8},{"f":945,"t":-2.1},{"f":998,"t":-1.1},{"f":1087,"t":1.0},{"f":1158,"t":-2.5},{"f":1246,"t":6},{"f":1282,"t":3.2},{"f":1317,"t":0.4},{"f":1353,"t":0},{"f":1406,"t":4.2},{"f":1442,"t":-1.5},{"f":1495,"t":-3.8},{"f":1566,"t":2.6},{"f":1601,"t":-1.5},{"f":1637,"t":-3.4},{"f":1707,"t":0.4},{"f":1760,"t":1.0},{"f":1787,"t":-3.4},{"f":1832,"t":3.2},{"f":1903,"t":5.1},{"f":1955,"t":6.4},{"f":2009,"t":7},{"f":2053,"t":7.5},{"f":2089,"t":4.2},{"f":2133,"t":-1.5},{"f":2177,"t":-8.7},{"f":2222,"t":-6.2},{"f":2292,"t":0.4},{"f":2328,"t":1.9},{"f":2363,"t":0},{"f":2399,"t":1.9},{"f":2417,"t":-0.6}]
},
"spacing":8,
"bounds":"flush",
"vconcat":[
{"data":{"name":"cx"},"transform":[{"fold":["m","t","e"],"as":["s","v"]},{"filter":"datum.v != null"}],"width":500,"height":46,"mark":{"type":"line","interpolate":"monotone","strokeWidth":2.5,"clip":true},"encoding":{"x":{"field":"f","type":"quantitative","scale":{"domain":[-121,2539],"nice":false,"zero":false},"axis":{"values":[0,500,1000,1500,2000,2500],"labels":false,"title":null}},"y":{"field":"v","type":"quantitative","scale":{"domain":[-0.18,2.83],"nice":false,"zero":false},"axis":{"values":[0,2.5],"format":".1f","title":"𝐜ₓ (m)"}},"color":{"field":"s","type":"nominal","title":null,"scale":{"domain":["m","t","e"],"range":["#4C72B0","#DD8452","#55A868"]},"legend":{"labelExpr":"datum.label=='m'?'measure':datum.label=='t'?'truth':'estimation\u2003'"}}}},
{"data":{"name":"cy"},"transform":[{"fold":["m","t","e"],"as":["s","v"]},{"filter":"datum.v != null"}],"width":500,"height":46,"encoding":{"x":{"field":"f","type":"quantitative","scale":{"domain":[-121,2539],"nice":false,"zero":false},"axis":{"values":[0,500,1000,1500,2000,2500],"labels":false,"title":null}},"y":{"field":"v","type":"quantitative","scale":{"domain":[-0.166,0.139],"nice":false,"zero":false},"axis":{"values":[-0.1,0,0.1],"format":".1f","title":"𝐜ᵧ (m)"}},"color":{"field":"s","type":"nominal","title":null,"scale":{"domain":["m","t","e"],"range":["#4C72B0","#DD8452","#55A868"]},"legend":{"labelExpr":"datum.label=='m'?'measure':datum.label=='t'?'truth':'estimation\u2003'"}}},"layer":[{"transform":[{"filter":"datum.s=='m'"}],"mark":{"type":"line","interpolate":"linear","strokeWidth":2.4,"clip":true}},{"transform":[{"filter":"datum.s!='m'"}],"mark":{"type":"line","interpolate":"monotone","strokeWidth":2.5,"clip":true}}]},
{"data":{"name":"cz"},"transform":[{"fold":["m","t","e"],"as":["s","v"]},{"filter":"datum.v != null"}],"width":500,"height":46,"encoding":{"x":{"field":"f","type":"quantitative","scale":{"domain":[-121,2539],"nice":false,"zero":false},"axis":{"values":[0,500,1000,1500,2000,2500],"labels":false,"title":null}},"y":{"field":"v","type":"quantitative","scale":{"domain":[0.712,0.976],"nice":false,"zero":false},"axis":{"values":[0.8,0.9],"format":".1f","title":"𝐜𝑧 (m)"}},"color":{"field":"s","type":"nominal","title":null,"scale":{"domain":["m","t","e"],"range":["#4C72B0","#DD8452","#55A868"]},"legend":{"labelExpr":"datum.label=='m'?'measure':datum.label=='t'?'truth':'estimation\u2003'"}}},"layer":[{"transform":[{"filter":"datum.s=='m'"}],"mark":{"type":"line","interpolate":"linear","strokeWidth":2.4,"clip":true}},{"transform":[{"filter":"datum.s!='m'"}],"mark":{"type":"line","interpolate":"monotone","strokeWidth":2.5,"clip":true}}]},
{"data":{"name":"px"},"transform":[{"fold":["m","t","e"],"as":["s","v"]},{"filter":"datum.v != null"}],"width":500,"height":46,"mark":{"type":"line","interpolate":"monotone","strokeWidth":2.5,"clip":true},"encoding":{"x":{"field":"f","type":"quantitative","scale":{"domain":[-121,2539],"nice":false,"zero":false},"axis":{"values":[0,500,1000,1500,2000,2500],"labels":false,"title":null}},"y":{"field":"v","type":"quantitative","scale":{"domain":[-2,30.3],"nice":false,"zero":false},"axis":{"values":[0,25],"format":"d","title":"𝒫ₓ (kg·m/s)"}},"color":{"field":"s","type":"nominal","title":null,"scale":{"domain":["m","t","e"],"range":["#4C72B0","#DD8452","#55A868"]},"legend":{"labelExpr":"datum.label=='m'?'measure':datum.label=='t'?'truth':'estimation\u2003'"}}}},
{"data":{"name":"py"},"transform":[{"fold":["m","t","e"],"as":["s","v"]},{"filter":"datum.v != null"}],"width":500,"height":46,"mark":{"type":"line","interpolate":"monotone","strokeWidth":2.5,"clip":true},"encoding":{"x":{"field":"f","type":"quantitative","scale":{"domain":[-121,2539],"nice":false,"zero":false},"axis":{"values":[0,500,1000,1500,2000,2500],"labels":false,"title":null}},"y":{"field":"v","type":"quantitative","scale":{"domain":[-13.2,13.9],"nice":false,"zero":false},"axis":{"values":[-10,0,10],"format":"d","title":"𝒫ᵧ (kg·m/s)"}},"color":{"field":"s","type":"nominal","title":null,"scale":{"domain":["m","t","e"],"range":["#4C72B0","#DD8452","#55A868"]},"legend":{"labelExpr":"datum.label=='m'?'measure':datum.label=='t'?'truth':'estimation\u2003'"}}}},
{"data":{"name":"pz"},"transform":[{"fold":["m","t","e"],"as":["s","v"]},{"filter":"datum.v != null"}],"width":500,"height":46,"mark":{"type":"line","interpolate":"monotone","strokeWidth":2.5,"clip":true},"encoding":{"x":{"field":"f","type":"quantitative","scale":{"domain":[-121,2539],"nice":false,"zero":false},"axis":{"values":[0,500,1000,1500,2000,2500],"labels":false,"title":null}},"y":{"field":"v","type":"quantitative","scale":{"domain":[-5.3,6.6],"nice":false,"zero":false},"axis":{"values":[-5,0,5],"format":"d","title":"𝒫𝑧 (kg·m/s)"}},"color":{"field":"s","type":"nominal","title":null,"scale":{"domain":["m","t","e"],"range":["#4C72B0","#DD8452","#55A868"]},"legend":{"labelExpr":"datum.label=='m'?'measure':datum.label=='t'?'truth':'estimation\u2003'"}}}},
{"data":{"name":"pxd"},"transform":[{"fold":["m","t","e"],"as":["s","v"]},{"filter":"datum.v != null"}],"width":500,"height":46,"mark":{"type":"line","interpolate":"monotone","strokeWidth":2.5,"clip":true},"encoding":{"x":{"field":"f","type":"quantitative","scale":{"domain":[-121,2539],"nice":false,"zero":false},"axis":{"values":[0,500,1000,1500,2000,2500],"labels":false,"title":null}},"y":{"field":"v","type":"quantitative","scale":{"domain":[-55.2,47],"nice":false,"zero":false},"axis":{"values":[-50,0],"format":"d","title":"𝒫̇ₓ (kg·m/s²)"}},"color":{"field":"s","type":"nominal","title":null,"scale":{"domain":["m","t","e"],"range":["#4C72B0","#DD8452","#55A868"]},"legend":{"labelExpr":"datum.label=='m'?'measure':datum.label=='t'?'truth':'estimation\u2003'"}}}},
{"data":{"name":"pyd"},"transform":[{"fold":["m","t","e"],"as":["s","v"]},{"filter":"datum.v != null"}],"width":500,"height":46,"mark":{"type":"line","interpolate":"monotone","strokeWidth":2.5,"clip":true},"encoding":{"x":{"field":"f","type":"quantitative","scale":{"domain":[-121,2539],"nice":false,"zero":false},"axis":{"values":[0,500,1000,1500,2000,2500],"labels":false,"title":null}},"y":{"field":"v","type":"quantitative","scale":{"domain":[-46,49],"nice":false,"zero":false},"axis":{"values":[-25,0,25],"format":"d","title":"𝒫̇ᵧ (kg·m/s²)"}},"color":{"field":"s","type":"nominal","title":null,"scale":{"domain":["m","t","e"],"range":["#4C72B0","#DD8452","#55A868"]},"legend":{"labelExpr":"datum.label=='m'?'measure':datum.label=='t'?'truth':'estimation\u2003'"}}}},
{"data":{"name":"pzd"},"transform":[{"fold":["m","t","e"],"as":["s","v"]},{"filter":"datum.v != null"}],"width":500,"height":46,"mark":{"type":"line","interpolate":"linear","strokeWidth":2.6,"clip":true},"encoding":{"x":{"field":"f","type":"quantitative","scale":{"domain":[-121,2539],"nice":false,"zero":false},"axis":{"values":[0,500,1000,1500,2000,2500],"format":"d","title":"frames"}},"y":{"field":"v","type":"quantitative","scale":{"domain":[-12.3,13.8],"nice":false,"zero":false},"axis":{"values":[-10,0,10],"format":"d","title":"𝒫̇𝑧 (kg·m/s²)"}},"color":{"field":"s","type":"nominal","title":null,"scale":{"domain":["m","t","e"],"range":["#4C72B0","#DD8452","#55A868"]},"legend":{"labelExpr":"datum.label=='m'?'measure':datum.label=='t'?'truth':'estimation\u2003'"}}}}
],
"config":{
"view":{"stroke":"#cccccc","strokeWidth":2},
"axis":{"domain":false,"ticks":false,"grid":true,"gridColor":"#d6d6d6","gridWidth":1.1,"labelFont":"Liberation Sans","labelFontSize":13,"labelColor":"#262626","labelPadding":10},
"axisY":{"titleAngle":0,"titleAlign":"left","titleBaseline":"middle","titleX":-155,"titleY":23,"titleFont":"DejaVu Serif","titleFontSize":17,"titleFontWeight":"normal","titleColor":"#111111"},
"axisX":{"titleFont":"DejaVu Sans","titleFontSize":18,"titleFontWeight":"normal","titleColor":"#262626","titlePadding":10},
"legend":{"orient":"none","legendX":-1,"legendY":-46,"direction":"horizontal","symbolType":"M-3,0H3","symbolSize":205,"symbolOffset":29.3,"symbolStrokeWidth":4.5,"labelFont":"DejaVu Sans","labelFontSize":18,"labelColor":"#262626","labelOffset":27.4,"columnPadding":15,"padding":8,"strokeColor":"#cccccc","fillColor":"white","cornerRadius":4}
}
}
